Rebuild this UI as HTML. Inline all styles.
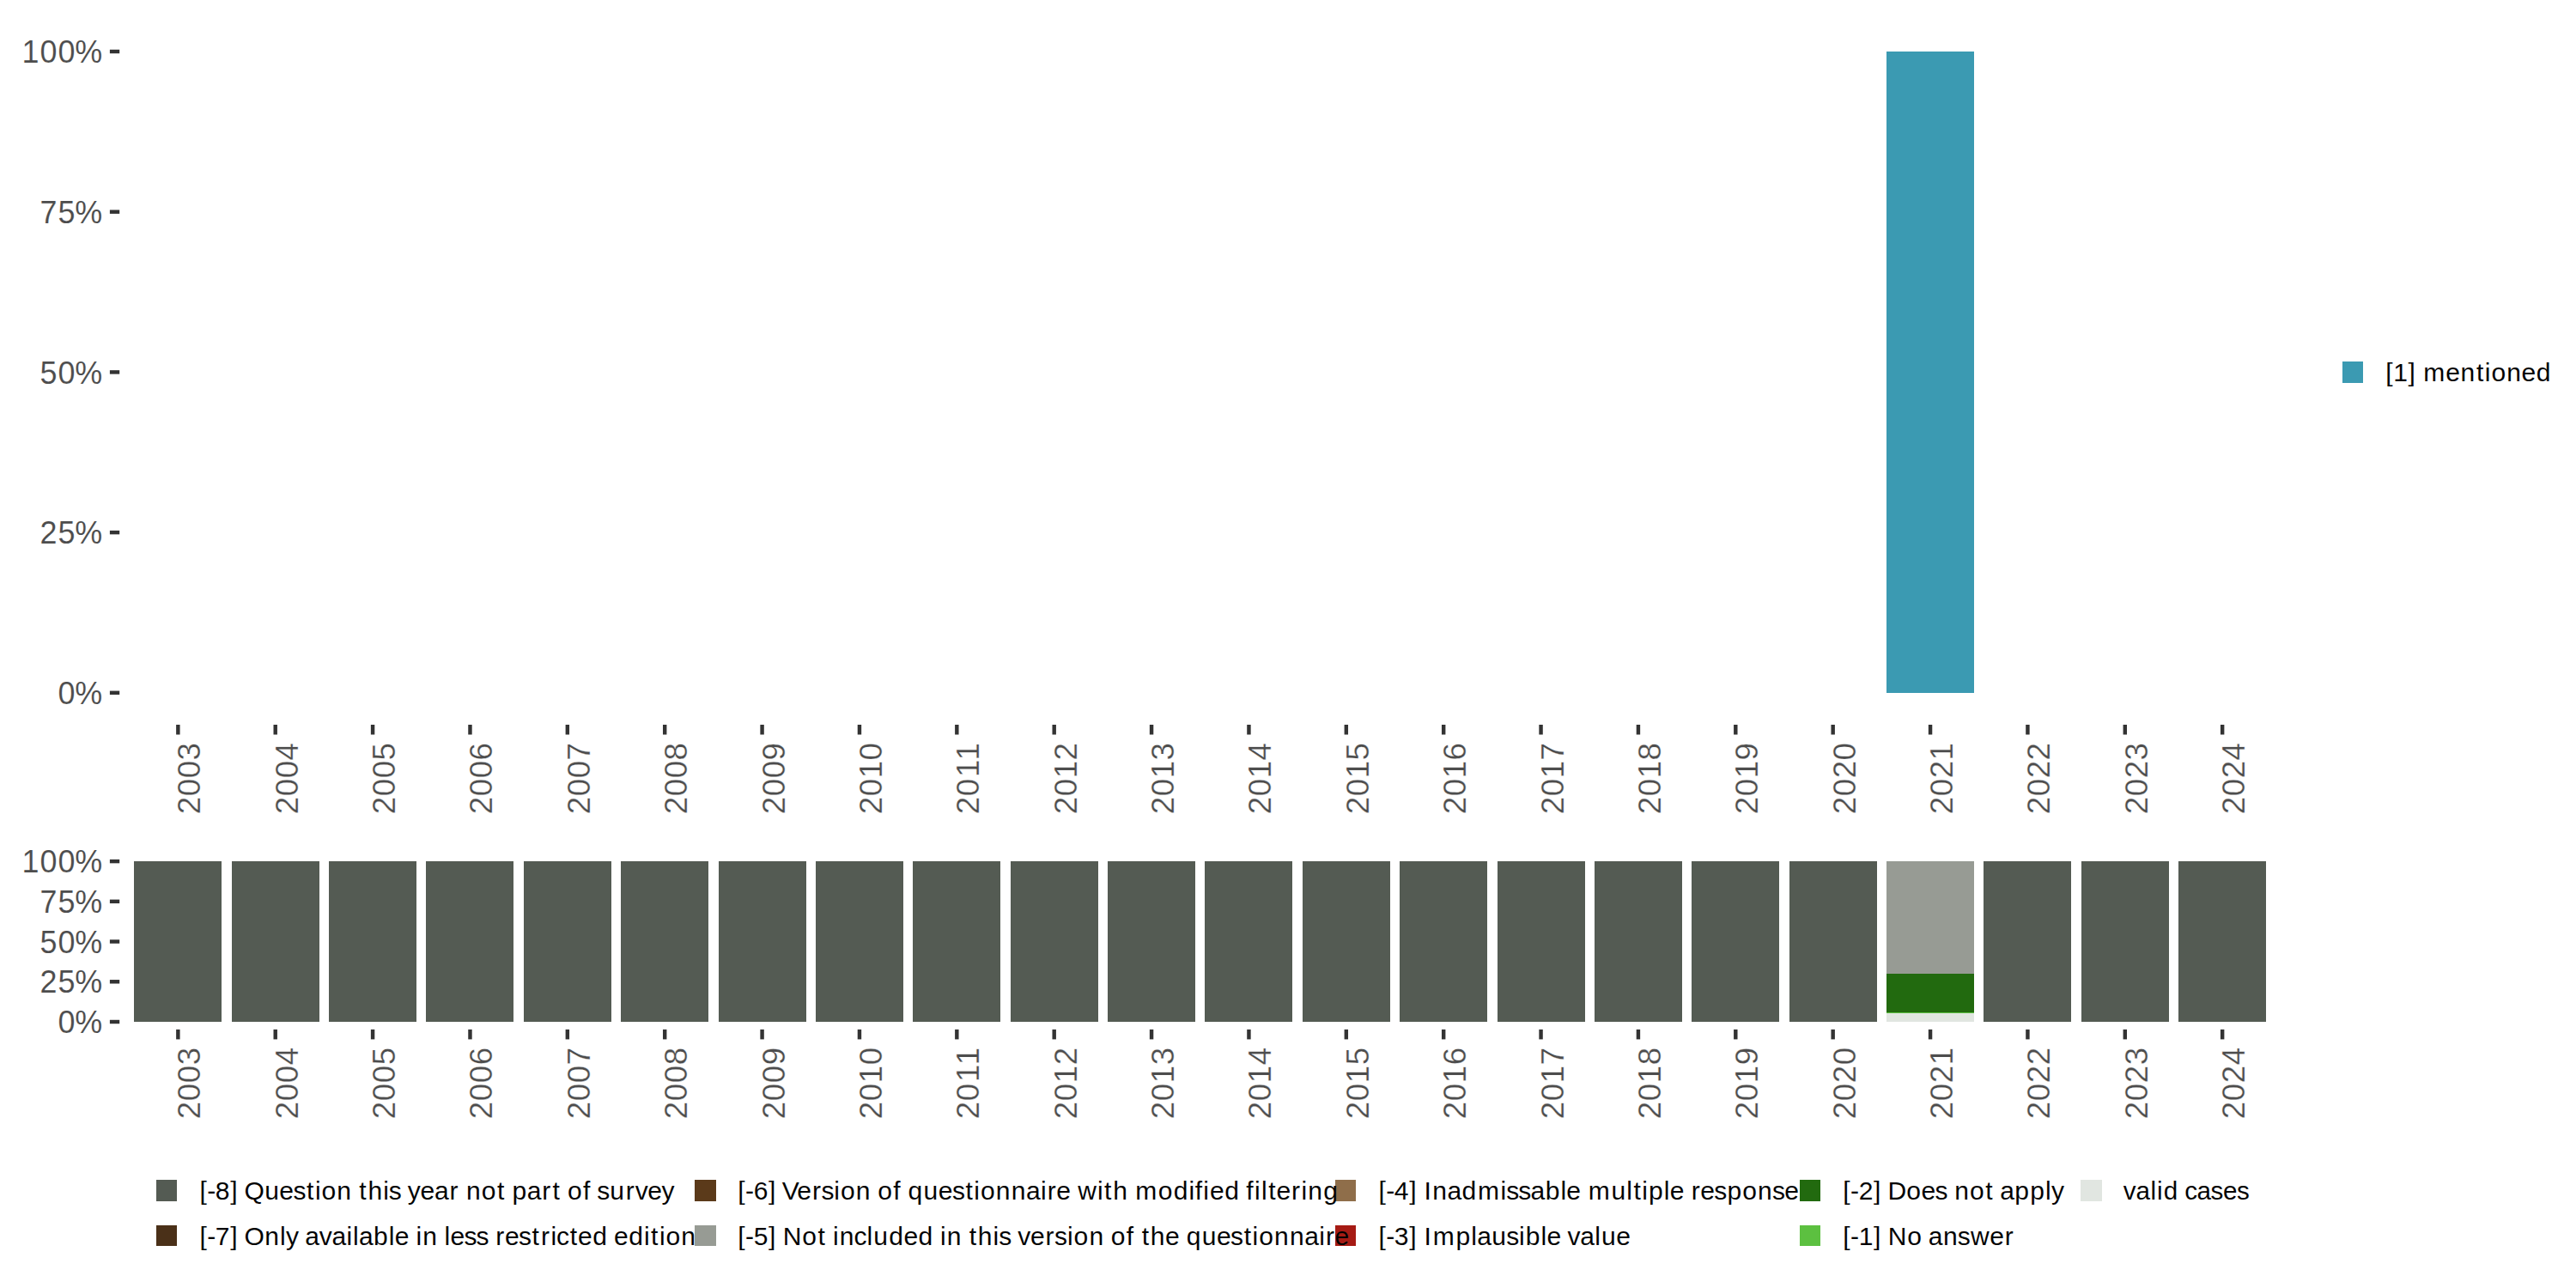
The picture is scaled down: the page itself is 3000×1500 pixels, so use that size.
<!DOCTYPE html>
<html lang="en">
<head>
<meta charset="utf-8">
<title>Chart</title>
<style>
html,body{margin:0;padding:0;background:#fff;}
body{width:3000px;height:1500px;overflow:hidden;}
svg{display:block;}
text{font-family:"Liberation Sans", sans-serif;white-space:pre;}
.ay{font-size:36.67px;fill:#4D4D4D;stroke:#fff;stroke-width:0.12px;}
.ax{font-size:36.67px;fill:#4D4D4D;stroke:#fff;stroke-width:0.3px;}
.lg{font-size:29.17px;fill:#000000;stroke:#fff;stroke-width:0.05px;}
</style>
</head>
<body>
<svg width="3000" height="1500" viewBox="0 0 3000 1500">
<rect width="3000" height="1500" fill="#FFFFFF"/>
<g id="top">
<rect x="127.9" y="804.58" width="11.3" height="4.44" fill="#333333"/>
<text class="ay" transform="translate(118.4 819.9) scale(0.9800 1)" x="-52 -31.86" y="0">0%</text>
<rect x="127.9" y="617.88" width="11.3" height="4.44" fill="#333333"/>
<text class="ay" transform="translate(118.4 633.2) scale(0.9800 1)" x="-73.4 -52 -31.86" y="0">25%</text>
<rect x="127.9" y="431.18" width="11.3" height="4.44" fill="#333333"/>
<text class="ay" transform="translate(118.4 446.5) scale(0.9800 1)" x="-73.4 -52 -31.86" y="0">50%</text>
<rect x="127.9" y="244.48" width="11.3" height="4.44" fill="#333333"/>
<text class="ay" transform="translate(118.4 259.8) scale(0.9800 1)" x="-73.4 -52 -31.86" y="0">75%</text>
<rect x="127.9" y="57.78" width="11.3" height="4.44" fill="#333333"/>
<text class="ay" transform="translate(118.4 73.1) scale(0.9800 1)" x="-94.8 -73.4 -52 -31.85" y="0">100%</text>
<rect x="2197" y="60" width="102" height="747" fill="#3B9AB2"/>
<rect x="205.13" y="844" width="4.44" height="11.5" fill="#333333"/>
<text class="ax" transform="translate(233.35 864.7) rotate(-90) scale(1.0000 1)" x="-83.62 -62.64 -41.67 -20.69" y="0">2003</text>
<rect x="318.5" y="844" width="4.44" height="11.5" fill="#333333"/>
<text class="ax" transform="translate(346.72 864.7) rotate(-90) scale(1.0000 1)" x="-83.62 -62.64 -41.67 -20.69" y="0">2004</text>
<rect x="431.87" y="844" width="4.44" height="11.5" fill="#333333"/>
<text class="ax" transform="translate(460.09 864.7) rotate(-90) scale(1.0000 1)" x="-83.62 -62.64 -41.67 -20.69" y="0">2005</text>
<rect x="545.25" y="844" width="4.44" height="11.5" fill="#333333"/>
<text class="ax" transform="translate(573.47 864.7) rotate(-90) scale(1.0000 1)" x="-83.62 -62.64 -41.67 -20.69" y="0">2006</text>
<rect x="658.62" y="844" width="4.44" height="11.5" fill="#333333"/>
<text class="ax" transform="translate(686.84 864.7) rotate(-90) scale(1.0000 1)" x="-83.62 -62.64 -41.67 -20.69" y="0">2007</text>
<rect x="771.99" y="844" width="4.44" height="11.5" fill="#333333"/>
<text class="ax" transform="translate(800.21 864.7) rotate(-90) scale(1.0000 1)" x="-83.62 -62.64 -41.67 -20.69" y="0">2008</text>
<rect x="885.36" y="844" width="4.44" height="11.5" fill="#333333"/>
<text class="ax" transform="translate(913.58 864.7) rotate(-90) scale(1.0000 1)" x="-83.62 -62.64 -41.67 -20.69" y="0">2009</text>
<rect x="998.73" y="844" width="4.44" height="11.5" fill="#333333"/>
<text class="ax" transform="translate(1026.95 864.7) rotate(-90) scale(1.0000 1)" x="-83.62 -62.64 -41.67 -20.69" y="0">2010</text>
<rect x="1112.11" y="844" width="4.44" height="11.5" fill="#333333"/>
<text class="ax" transform="translate(1140.33 864.7) rotate(-90) scale(1.0000 1)" x="-83.62 -62.64 -40.31 -20.69" y="0">2011</text>
<rect x="1225.48" y="844" width="4.44" height="11.5" fill="#333333"/>
<text class="ax" transform="translate(1253.7 864.7) rotate(-90) scale(1.0000 1)" x="-83.62 -62.64 -41.67 -20.69" y="0">2012</text>
<rect x="1338.85" y="844" width="4.44" height="11.5" fill="#333333"/>
<text class="ax" transform="translate(1367.07 864.7) rotate(-90) scale(1.0000 1)" x="-83.62 -62.64 -41.67 -20.69" y="0">2013</text>
<rect x="1452.22" y="844" width="4.44" height="11.5" fill="#333333"/>
<text class="ax" transform="translate(1480.44 864.7) rotate(-90) scale(1.0000 1)" x="-83.62 -62.64 -41.67 -20.69" y="0">2014</text>
<rect x="1565.59" y="844" width="4.44" height="11.5" fill="#333333"/>
<text class="ax" transform="translate(1593.81 864.7) rotate(-90) scale(1.0000 1)" x="-83.62 -62.64 -41.67 -20.69" y="0">2015</text>
<rect x="1678.97" y="844" width="4.44" height="11.5" fill="#333333"/>
<text class="ax" transform="translate(1707.19 864.7) rotate(-90) scale(1.0000 1)" x="-83.62 -62.64 -41.67 -20.69" y="0">2016</text>
<rect x="1792.34" y="844" width="4.44" height="11.5" fill="#333333"/>
<text class="ax" transform="translate(1820.56 864.7) rotate(-90) scale(1.0000 1)" x="-83.62 -62.64 -41.67 -20.69" y="0">2017</text>
<rect x="1905.71" y="844" width="4.44" height="11.5" fill="#333333"/>
<text class="ax" transform="translate(1933.93 864.7) rotate(-90) scale(1.0000 1)" x="-83.62 -62.64 -41.67 -20.69" y="0">2018</text>
<rect x="2019.08" y="844" width="4.44" height="11.5" fill="#333333"/>
<text class="ax" transform="translate(2047.3 864.7) rotate(-90) scale(1.0000 1)" x="-83.62 -62.64 -41.67 -20.69" y="0">2019</text>
<rect x="2132.45" y="844" width="4.44" height="11.5" fill="#333333"/>
<text class="ax" transform="translate(2160.67 864.7) rotate(-90) scale(1.0000 1)" x="-83.62 -62.64 -41.67 -20.69" y="0">2020</text>
<rect x="2245.83" y="844" width="4.44" height="11.5" fill="#333333"/>
<text class="ax" transform="translate(2274.05 864.7) rotate(-90) scale(1.0000 1)" x="-83.62 -62.64 -41.67 -20.69" y="0">2021</text>
<rect x="2359.2" y="844" width="4.44" height="11.5" fill="#333333"/>
<text class="ax" transform="translate(2387.42 864.7) rotate(-90) scale(1.0000 1)" x="-83.62 -62.64 -41.67 -20.69" y="0">2022</text>
<rect x="2472.57" y="844" width="4.44" height="11.5" fill="#333333"/>
<text class="ax" transform="translate(2500.79 864.7) rotate(-90) scale(1.0000 1)" x="-83.62 -62.64 -41.67 -20.69" y="0">2023</text>
<rect x="2585.94" y="844" width="4.44" height="11.5" fill="#333333"/>
<text class="ax" transform="translate(2614.16 864.7) rotate(-90) scale(1.0000 1)" x="-83.62 -62.64 -41.67 -20.69" y="0">2024</text>
</g>
<g id="bottom">
<rect x="127.9" y="1187.78" width="11.3" height="4.44" fill="#333333"/>
<text class="ay" transform="translate(118.4 1203.1) scale(0.9800 1)" x="-52 -31.86" y="0">0%</text>
<rect x="127.9" y="1141.06" width="11.3" height="4.44" fill="#333333"/>
<text class="ay" transform="translate(118.4 1156.38) scale(0.9800 1)" x="-73.4 -52 -31.86" y="0">25%</text>
<rect x="127.9" y="1094.33" width="11.3" height="4.44" fill="#333333"/>
<text class="ay" transform="translate(118.4 1109.65) scale(0.9800 1)" x="-73.4 -52 -31.86" y="0">50%</text>
<rect x="127.9" y="1047.61" width="11.3" height="4.44" fill="#333333"/>
<text class="ay" transform="translate(118.4 1062.92) scale(0.9800 1)" x="-73.4 -52 -31.86" y="0">75%</text>
<rect x="127.9" y="1000.88" width="11.3" height="4.44" fill="#333333"/>
<text class="ay" transform="translate(118.4 1016.2) scale(0.9800 1)" x="-94.8 -73.4 -52 -31.85" y="0">100%</text>
<rect x="156" y="1003" width="102" height="187" fill="#545B53"/>
<rect x="270" y="1003" width="102" height="187" fill="#545B53"/>
<rect x="383" y="1003" width="102" height="187" fill="#545B53"/>
<rect x="496" y="1003" width="102" height="187" fill="#545B53"/>
<rect x="610" y="1003" width="102" height="187" fill="#545B53"/>
<rect x="723" y="1003" width="102" height="187" fill="#545B53"/>
<rect x="837" y="1003" width="102" height="187" fill="#545B53"/>
<rect x="950" y="1003" width="102" height="187" fill="#545B53"/>
<rect x="1063" y="1003" width="102" height="187" fill="#545B53"/>
<rect x="1177" y="1003" width="102" height="187" fill="#545B53"/>
<rect x="1290" y="1003" width="102" height="187" fill="#545B53"/>
<rect x="1403" y="1003" width="102" height="187" fill="#545B53"/>
<rect x="1517" y="1003" width="102" height="187" fill="#545B53"/>
<rect x="1630" y="1003" width="102" height="187" fill="#545B53"/>
<rect x="1744" y="1003" width="102" height="187" fill="#545B53"/>
<rect x="1857" y="1003" width="102" height="187" fill="#545B53"/>
<rect x="1970" y="1003" width="102" height="187" fill="#545B53"/>
<rect x="2084" y="1003" width="102" height="187" fill="#545B53"/>
<rect x="2197" y="1003" width="102" height="131" fill="#979B94"/>
<rect x="2197" y="1134" width="102" height="45" fill="#226A0F"/>
<rect x="2197" y="1179" width="102" height="1" fill="#5CC040"/>
<rect x="2197" y="1180" width="102" height="10" fill="#E1E6E1"/>
<rect x="2310" y="1003" width="102" height="187" fill="#545B53"/>
<rect x="2424" y="1003" width="102" height="187" fill="#545B53"/>
<rect x="2537" y="1003" width="102" height="187" fill="#545B53"/>
<rect x="205.13" y="1198.9" width="4.44" height="11.5" fill="#333333"/>
<text class="ax" transform="translate(233.35 1219.6) rotate(-90) scale(1.0000 1)" x="-83.62 -62.64 -41.67 -20.69" y="0">2003</text>
<rect x="318.5" y="1198.9" width="4.44" height="11.5" fill="#333333"/>
<text class="ax" transform="translate(346.72 1219.6) rotate(-90) scale(1.0000 1)" x="-83.62 -62.64 -41.67 -20.69" y="0">2004</text>
<rect x="431.87" y="1198.9" width="4.44" height="11.5" fill="#333333"/>
<text class="ax" transform="translate(460.09 1219.6) rotate(-90) scale(1.0000 1)" x="-83.62 -62.64 -41.67 -20.69" y="0">2005</text>
<rect x="545.25" y="1198.9" width="4.44" height="11.5" fill="#333333"/>
<text class="ax" transform="translate(573.47 1219.6) rotate(-90) scale(1.0000 1)" x="-83.62 -62.64 -41.67 -20.69" y="0">2006</text>
<rect x="658.62" y="1198.9" width="4.44" height="11.5" fill="#333333"/>
<text class="ax" transform="translate(686.84 1219.6) rotate(-90) scale(1.0000 1)" x="-83.62 -62.64 -41.67 -20.69" y="0">2007</text>
<rect x="771.99" y="1198.9" width="4.44" height="11.5" fill="#333333"/>
<text class="ax" transform="translate(800.21 1219.6) rotate(-90) scale(1.0000 1)" x="-83.62 -62.64 -41.67 -20.69" y="0">2008</text>
<rect x="885.36" y="1198.9" width="4.44" height="11.5" fill="#333333"/>
<text class="ax" transform="translate(913.58 1219.6) rotate(-90) scale(1.0000 1)" x="-83.62 -62.64 -41.67 -20.69" y="0">2009</text>
<rect x="998.73" y="1198.9" width="4.44" height="11.5" fill="#333333"/>
<text class="ax" transform="translate(1026.95 1219.6) rotate(-90) scale(1.0000 1)" x="-83.62 -62.64 -41.67 -20.69" y="0">2010</text>
<rect x="1112.11" y="1198.9" width="4.44" height="11.5" fill="#333333"/>
<text class="ax" transform="translate(1140.33 1219.6) rotate(-90) scale(1.0000 1)" x="-83.62 -62.64 -40.31 -20.69" y="0">2011</text>
<rect x="1225.48" y="1198.9" width="4.44" height="11.5" fill="#333333"/>
<text class="ax" transform="translate(1253.7 1219.6) rotate(-90) scale(1.0000 1)" x="-83.62 -62.64 -41.67 -20.69" y="0">2012</text>
<rect x="1338.85" y="1198.9" width="4.44" height="11.5" fill="#333333"/>
<text class="ax" transform="translate(1367.07 1219.6) rotate(-90) scale(1.0000 1)" x="-83.62 -62.64 -41.67 -20.69" y="0">2013</text>
<rect x="1452.22" y="1198.9" width="4.44" height="11.5" fill="#333333"/>
<text class="ax" transform="translate(1480.44 1219.6) rotate(-90) scale(1.0000 1)" x="-83.62 -62.64 -41.67 -20.69" y="0">2014</text>
<rect x="1565.59" y="1198.9" width="4.44" height="11.5" fill="#333333"/>
<text class="ax" transform="translate(1593.81 1219.6) rotate(-90) scale(1.0000 1)" x="-83.62 -62.64 -41.67 -20.69" y="0">2015</text>
<rect x="1678.97" y="1198.9" width="4.44" height="11.5" fill="#333333"/>
<text class="ax" transform="translate(1707.19 1219.6) rotate(-90) scale(1.0000 1)" x="-83.62 -62.64 -41.67 -20.69" y="0">2016</text>
<rect x="1792.34" y="1198.9" width="4.44" height="11.5" fill="#333333"/>
<text class="ax" transform="translate(1820.56 1219.6) rotate(-90) scale(1.0000 1)" x="-83.62 -62.64 -41.67 -20.69" y="0">2017</text>
<rect x="1905.71" y="1198.9" width="4.44" height="11.5" fill="#333333"/>
<text class="ax" transform="translate(1933.93 1219.6) rotate(-90) scale(1.0000 1)" x="-83.62 -62.64 -41.67 -20.69" y="0">2018</text>
<rect x="2019.08" y="1198.9" width="4.44" height="11.5" fill="#333333"/>
<text class="ax" transform="translate(2047.3 1219.6) rotate(-90) scale(1.0000 1)" x="-83.62 -62.64 -41.67 -20.69" y="0">2019</text>
<rect x="2132.45" y="1198.9" width="4.44" height="11.5" fill="#333333"/>
<text class="ax" transform="translate(2160.67 1219.6) rotate(-90) scale(1.0000 1)" x="-83.62 -62.64 -41.67 -20.69" y="0">2020</text>
<rect x="2245.83" y="1198.9" width="4.44" height="11.5" fill="#333333"/>
<text class="ax" transform="translate(2274.05 1219.6) rotate(-90) scale(1.0000 1)" x="-83.62 -62.64 -41.67 -20.69" y="0">2021</text>
<rect x="2359.2" y="1198.9" width="4.44" height="11.5" fill="#333333"/>
<text class="ax" transform="translate(2387.42 1219.6) rotate(-90) scale(1.0000 1)" x="-83.62 -62.64 -41.67 -20.69" y="0">2022</text>
<rect x="2472.57" y="1198.9" width="4.44" height="11.5" fill="#333333"/>
<text class="ax" transform="translate(2500.79 1219.6) rotate(-90) scale(1.0000 1)" x="-83.62 -62.64 -41.67 -20.69" y="0">2023</text>
<rect x="2585.94" y="1198.9" width="4.44" height="11.5" fill="#333333"/>
<text class="ax" transform="translate(2614.16 1219.6) rotate(-90) scale(1.0000 1)" x="-83.62 -62.64 -41.67 -20.69" y="0">2024</text>
</g>
<g id="legtop">
<rect x="2728" y="421" width="24" height="25" fill="#3B9AB2"/>
<text class="lg" transform="translate(2777.7 443.9) scale(1.0300 1)" x="0.61 9.3 26.12 34.46 43.28 68.55 85.29 103.21 112.79 120.13 137.45 154.19 170.89" y="0">[1] mentioned</text>
</g>
<g id="legbot">
<rect x="182" y="1374" width="24" height="25" fill="#545B53"/>
<rect x="182" y="1427" width="24" height="24" fill="#4A3018"/>
<rect x="809" y="1374" width="25" height="25" fill="#5B3A1A"/>
<rect x="809" y="1427" width="25" height="24" fill="#979B94"/>
<rect x="1555" y="1374" width="24" height="25" fill="#8F6E4A"/>
<rect x="1555" y="1427" width="24" height="24" fill="#A61B14"/>
<rect x="2096" y="1374" width="24" height="25" fill="#226A0F"/>
<rect x="2096" y="1427" width="24" height="24" fill="#5CC040"/>
<rect x="2423" y="1374" width="25" height="25" fill="#E1E6E1"/>
<text class="lg" transform="translate(231.85 1396.9) scale(1.0300 1)" x="0.61 9.02 18.42 35.24 43.58 51.03 74.07 90.81 106.4 121.53 131.11 138.46 155.78 172.27 181.06 190.86 208.14 214.52 228.23 235.89 250.28 266.21 283.26 293.59 301.97 319.28 337.02 345.82 354.15 370.8 387.85 399.61 408.4 416.59 434.09 442.64 449.87 464.58 482.44 493.04 507.12 522.86" y="0">[-8] Question this year not part of survey</text>
<text class="lg" transform="translate(231.85 1449.8) scale(1.0300 1)" x="0.61 9.02 18.42 35.24 43.58 51.03 74.07 91.35 98.17 112.31 119.88 135.84 150.15 166.62 173.93 180.66 197.31 214.54 221.31 237.04 245.19 252.72 269.21 277.35 284.12 299.71 313.28 326.98 335.42 345.72 361.31 376.44 386.6 397.72 404.11 419.26 428.3 445 461.45 469.05 485.75 502.98 510.94 520.51 527.87 545.18" y="0">[-7] Only available in less restricted edition</text>
<text class="lg" transform="translate(858.7 1396.9) scale(1.0300 1)" x="0.61 9.02 18.42 35.24 43.58 50.6 67.62 84.7 94.9 109.39 116.74 134.06 150.55 158.74 176.23 184.79 193.12 210.58 227.31 242.9 258.04 267.61 274.96 292.28 309.78 326.47 342.95 350.55 360.84 376.57 384.9 406.98 414.93 424.73 441.23 450.05 475.9 493.17 510.4 517.51 526.84 534.22 550.92 567.36 575.31 584.65 592.56 600.52 609.55 626.64 637.76 645.3 662.75" y="0">[-6] Version of questionnaire with modified filtering</text>
<text class="lg" transform="translate(858.7 1449.8) scale(1.0300 1)" x="0.61 9.02 18.42 35.24 43.58 51.54 73.29 91.03 99.83 107.97 115.51 131.87 146.37 153.91 171.37 188.06 204.75 221.21 229.35 236.89 253.38 262.17 271.97 289.25 295.64 309.34 316.97 331.34 348.42 358.62 373.11 380.46 397.78 414.27 422.46 439.95 448.5 457.3 467.1 483.84 499.57 507.9 525.36 542.09 557.68 572.82 582.39 589.75 607.06 624.56 641.26 657.73 665.33 675.62" y="0">[-5] Not included in this version of the questionnaire</text>
<text class="lg" transform="translate(1604.85 1396.9) scale(1.0300 1)" x="0.61 9.02 18.42 35.24 43.58 52.06 61.56 78.25 94.9 112.81 138.61 145 158.56 172.47 189.12 206.36 213.12 228.85 237.68 263.7 280.98 288.93 298.51 306 323.23 330 345.73 354.17 364.47 380.06 394.73 412 429.32 445.67 459.63" y="0">[-4] Inadmissable multiple response</text>
<text class="lg" transform="translate(1604.85 1449.8) scale(1.0300 1)" x="0.61 9.02 18.42 35.24 43.58 52.06 62.01 87.99 105.22 111.95 128.65 145 159.48 166.98 184.21 190.98 206.7 214.34 228.66 245.13 252.66 269.4" y="0">[-3] Implausible value</text>
<text class="lg" transform="translate(2145.75 1396.9) scale(1.0300 1)" x="0.61 9.02 18.42 35.24 43.58 51.12 72.44 89 104.58 118.29 126.66 143.98 161.72 170.51 178.08 194.73 212.15 229.38 236.21" y="0">[-2] Does not apply</text>
<text class="lg" transform="translate(2145.75 1449.8) scale(1.0300 1)" x="0.61 9.02 18.42 35.24 43.58 51.54 73.29 89.6 97.17 113.86 130.21 144.89 166.42 183.51" y="0">[-1] No answer</text>
<text class="lg" transform="translate(2472.8 1396.9) scale(1.0152 1)" x="0.01 14.54 31.18 38.59 46.26 62.89 70.28 84.42 100.18 114.35 130.15" y="0">valid cases</text>
</g>
</svg>
</body>
</html>
